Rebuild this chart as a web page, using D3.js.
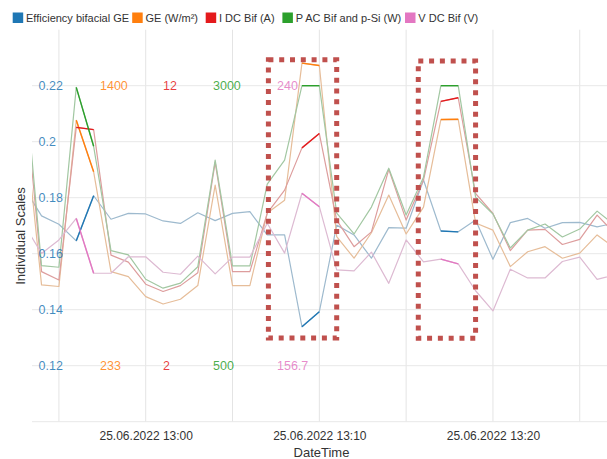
<!DOCTYPE html>
<html>
<head>
<meta charset="utf-8">
<script src="https://cdn.jsdelivr.net/npm/d3@7"></script>
<style>
  body { margin: 0; background: #fff; }
  svg { display: block; }
  text { font-family: "Liberation Sans", Arial, sans-serif; }
</style>
</head>
<body>
<svg id="chart" width="607" height="459"></svg>
<script>
// One reading per minute, 25.06.2022
const minutes = ["12:53","12:54","12:55","12:56","12:57","12:58","12:59",
  "13:00","13:01","13:02","13:03","13:04","13:05","13:06","13:07","13:08","13:09","13:10",
  "13:11","13:12","13:13","13:14","13:15","13:16","13:17","13:18","13:19","13:20",
  "13:21","13:22","13:23","13:24","13:25","13:26","13:27"];

const efficiency = [0.1835, 0.1735, 0.1705, 0.1646, 0.1807, 0.1723, 0.1744,
  0.1742, 0.1717, 0.1708, 0.1746, 0.1718, 0.1744, 0.1750, 0.1667, 0.1667, 0.1339, 0.1393,
  0.1702, 0.1667, 0.1584, 0.1693, 0.1691, 0.1863, 0.1681, 0.1678, 0.1720, 0.1580,
  0.1711, 0.1726, 0.1691, 0.1711, 0.1712, 0.1696, 0.1709];

const irradiance = [1270, 570, 563, 1256, 1041, 625, 604,
  521, 490, 510, 567, 986, 567, 567, 869, 923, 1494, 1484,
  771, 681, 787, 944, 782, 894, 1259, 1260, 828, 798,
  646, 708, 729, 681, 702, 778, 724];

const currentDC = [11.93, 5.36, 5.06, 10.51, 10.43, 5.95, 5.70,
  4.91, 4.65, 4.86, 5.32, 9.27, 5.36, 5.36, 7.45, 8.27, 9.78, 10.29,
  7.20, 6.25, 6.78, 9.01, 7.20, 8.63, 11.44, 11.57, 8.15, 7.44,
  6.11, 6.84, 6.87, 6.33, 6.51, 7.38, 6.74];

const powerAC = [3120, 1393, 1379, 2985, 2459, 1527, 1489,
  1272, 1192, 1237, 1384, 2335, 1391, 1391, 2121, 2335, 3000, 3000,
  1863, 1676, 1916, 2263, 1845, 2183, 3000, 3000, 2005, 1854,
  1551, 1711, 1765, 1649, 1720, 1880, 1756];

const voltageDC = [198.6, 190.1, 194.1, 200.5, 184.2, 184.2, 189.1,
  189.1, 184.5, 183.9, 189.3, 184.0, 189.0, 189.0, 199.1, 190.2, 208.0, 204.0,
  185.2, 184.9, 190.5, 181.2, 194.1, 187.6, 188.4, 187.0, 179.0, 173.0,
  185.4, 182.8, 182.8, 187.7, 189.0, 182.4, 183.7];

const seriesNames = ["Efficiency bifacial GE", "GE (W/m²)", "I DC Bif (A)", "P AC Bif and p-Si (W)", "V DC Bif (V)"];
const seriesColors = ["#1f77b4", "#ff7f0e", "#e41a1c", "#2ca02c", "#e377c2"];
// each series gets its own scale: low label sits on the 0.12 line, high label on the 0.22 line
const scaleLow  = [0.12, 233, 2, 500, 156.7];
const scaleHigh = [0.22, 1400, 12, 3000, 240];
const scaleLowText  = ["0.12", "233", "2", "500", "156.7"];
const scaleHighText = ["0.22", "1400", "12", "3000", "240"];
const efficiencyTicks = [0.12, 0.14, 0.16, 0.18, 0.2, 0.22];
const timeTicks = ["13:00", "13:10", "13:20"];

// minute intervals drawn in full colour
const highlightSpans = [["12:56", "12:57"], ["13:09", "13:10"], ["13:17", "13:18"]];
// dotted frames: time window and efficiency range
const frameStart = ["13:07:04", "13:15:42"];
const frameEnd   = ["13:11:00", "13:19:00"];
const frameLow   = [0.1299, 0.1298];
const frameHigh  = [0.2293, 0.2288];

const seriesValues = [efficiency, irradiance, currentDC, powerAC, voltageDC];

const parseT = s => new Date(`2022-06-25T${s.length === 5 ? s + ":00" : s}`);
const times = minutes.map(parseT);

const svg = d3.select("#chart");
const plotLeft = 32, plotRight = 611, plotTop = 29.7, plotBottom = 421.7;

const x = d3.scaleTime()
  .domain([parseT("12:53:27"), parseT("13:26:48")])
  .range([plotLeft, plotRight]);

// shared vertical frame, expressed in efficiency units
const yEff = d3.scaleLinear().domain([0.10, 0.24]).range([plotBottom, plotTop]);

const yScales = scaleLow.map((lo, i) =>
  d3.scaleLinear().domain([lo, scaleHigh[i]]).range([yEff(0.12), yEff(0.22)]));

svg.append("defs").append("clipPath").attr("id", "plotClip")
  .append("rect").attr("x", plotLeft).attr("y", 0)
  .attr("width", plotRight - plotLeft).attr("height", plotBottom);

// grid
const grid = svg.append("g");
grid.selectAll("line.v")
  .data(x.ticks(d3.timeMinute.every(5)))
  .join("line")
  .attr("x1", d => x(d)).attr("x2", d => x(d))
  .attr("y1", plotTop).attr("y2", plotBottom)
  .attr("stroke", "#e4e4e4").attr("stroke-width", 1);
grid.selectAll("line.h")
  .data(efficiencyTicks.concat([0.10]))
  .join("line")
  .attr("x1", plotLeft).attr("x2", plotRight)
  .attr("y1", d => yEff(d)).attr("y2", d => yEff(d))
  .attr("stroke", "#e8e8e8").attr("stroke-width", 1);

// series: muted full trace, then full-colour segments on the highlighted minutes
const plot = svg.append("g").attr("clip-path", "url(#plotClip)");
const fade = c => d3.interpolateRgb(c, "#dadada")(0.68);

seriesValues.forEach((vals, i) => {
  const pts = vals.map((v, j) => ({ t: times[j], v }));
  const line = d3.line().x(d => x(d.t)).y(d => yScales[i](d.v));
  plot.append("path")
    .datum(pts)
    .attr("fill", "none")
    .attr("stroke", fade(seriesColors[i]))
    .attr("stroke-width", 1.2)
    .attr("stroke-linejoin", "round")
    .attr("d", line);
});

seriesValues.forEach((vals, i) => {
  const pts = vals.map((v, j) => ({ t: times[j], v }));
  const line = d3.line().x(d => x(d.t)).y(d => yScales[i](d.v));
  highlightSpans.forEach(([a, b]) => {
    const ta = parseT(a), tb = parseT(b);
    const seg = pts.filter(d => d.t >= ta && d.t <= tb);
    plot.append("path")
      .datum(seg)
      .attr("fill", "none")
      .attr("stroke", seriesColors[i])
      .attr("stroke-width", 1.4)
      .attr("d", line);
  });
});

// scale labels
const labelX = [38.5, 100, 163, 213, 277];
const labels = svg.append("g").attr("font-size", 12.5);
labels.selectAll("text.eff")
  .data(efficiencyTicks)
  .join("text")
  .attr("x", labelX[0]).attr("y", d => yEff(d)).attr("dy", "0.36em")
  .attr("fill", seriesColors[0]).attr("fill-opacity", 0.85)
  .text(d => String(+d.toFixed(2)));
for (let i = 1; i < seriesNames.length; i++) {
  labels.append("text")
    .attr("x", labelX[i]).attr("y", yScales[i](scaleHigh[i])).attr("dy", "0.36em")
    .attr("fill", seriesColors[i]).attr("fill-opacity", 0.85)
    .text(scaleHighText[i]);
  labels.append("text")
    .attr("x", labelX[i]).attr("y", yScales[i](scaleLow[i])).attr("dy", "0.36em")
    .attr("fill", seriesColors[i]).attr("fill-opacity", 0.85)
    .text(scaleLowText[i]);
}

// dotted frames
frameStart.forEach((s, k) => {
  const x0 = x(parseT(s)), x1 = x(parseT(frameEnd[k]));
  const y0 = yEff(frameHigh[k]), y1 = yEff(frameLow[k]);
  svg.append("rect")
    .attr("x", x0).attr("y", y0)
    .attr("width", x1 - x0).attr("height", y1 - y0)
    .attr("fill", "none")
    .attr("stroke", "#c0504d")
    .attr("stroke-width", 5)
    .attr("stroke-dasharray", "5 5.8");
});

// x axis
const xAxis = d3.axisBottom(x)
  .tickValues(timeTicks.map(parseT))
  .tickFormat(d3.timeFormat("%d.%m.%Y %H:%M"))
  .tickSize(0).tickPadding(10);
const ax = svg.append("g").attr("transform", `translate(0,${plotBottom})`).call(xAxis);
ax.select(".domain").remove();
ax.selectAll("text").attr("font-size", 12).attr("fill", "#333")
  .attr("font-family", "'Liberation Sans', Arial, sans-serif");

svg.append("text")
  .attr("x", (plotLeft + plotRight) / 2).attr("y", 456.5)
  .attr("text-anchor", "middle").attr("font-size", 13).attr("fill", "#333")
  .text("DateTime");

svg.append("text")
  .attr("transform", "translate(25,236) rotate(-90)")
  .attr("text-anchor", "middle").attr("font-size", 13).attr("fill", "#333")
  .text("Individual Scales");

// legend
const legendTextX = [26, 145.5, 219, 295.7, 418.3];
const legend = svg.append("g");
seriesNames.forEach((name, i) => {
  const g = legend.append("g").attr("transform", `translate(${legendTextX[i] - 13.3},12.5)`);
  g.append("rect").attr("width", 10.5).attr("height", 10.5).attr("fill", seriesColors[i]);
  g.append("text").attr("x", 13.3).attr("y", 9.6).attr("font-size", 11).attr("fill", "#333").text(name);
});
</script>
</body>
</html>
